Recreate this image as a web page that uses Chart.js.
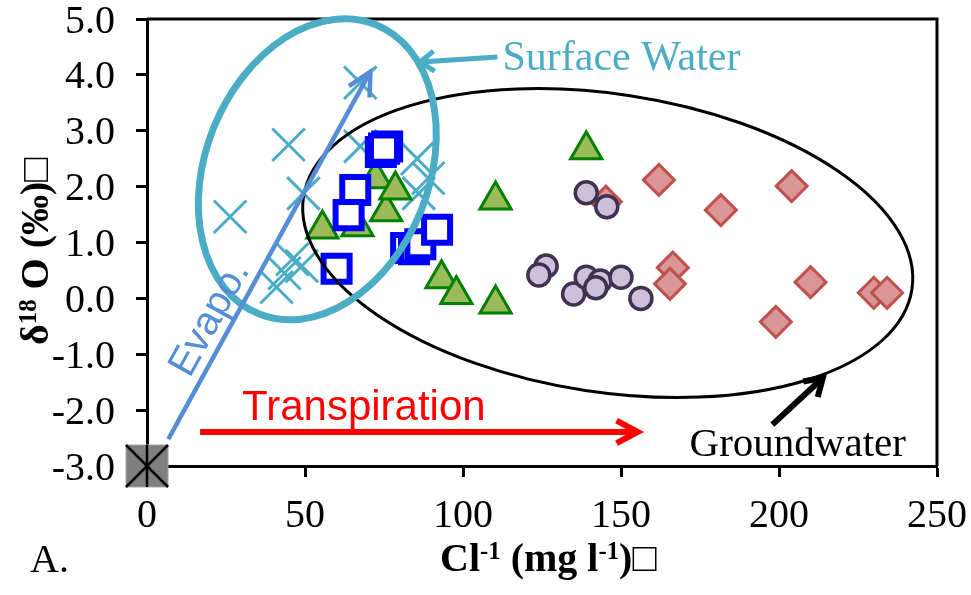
<!DOCTYPE html>
<html>
<head>
<meta charset="utf-8">
<script src="https://cdn.jsdelivr.net/npm/chart.js@4.4.1/dist/chart.umd.min.js"></script>
<style>
  html, body { margin: 0; padding: 0; background: #ffffff; }
  canvas { display: block; }
</style>
</head>
<body>
<canvas id="c" width="971" height="595"></canvas>
<script>
// Chloride (mg/l) against delta-18O (permil) for each group of water samples
const surfaceCl   = [67.5, 44.8, 67.5, 26.3, 49.5, 85.5, 89.0, 86.0, 46.0, 49.0, 43.5, 41.0];
const surfaceO18  = [3.86, 2.75, 2.72, 1.46, 1.88, 2.50, 2.15, 1.88, 0.70, 0.58, 0.45, 0.20];

const squareCl    = [74.0, 76.0, 75.0, 65.9, 63.8, 60.0, 82.0, 84.5, 86.5, 91.8];
const squareO18   = [2.62, 2.72, 2.68, 1.94, 1.49, 0.53, 0.90, 0.88, 0.97, 1.23];

const triangleCl  = [55.5, 66.6, 72.4, 75.7, 78.6, 93.2, 97.9, 110.3, 110.3, 139.0];
const triangleO18 = [1.24, 1.28, 2.14, 1.55, 1.94, 0.35, 0.07, -0.10, 1.76, 2.66];

const circleCl    = [139.0, 145.5, 126.3, 124.0, 135.0, 139.0, 143.4, 142.0, 150.0, 156.3];
const circleO18   = [1.89, 1.64, 0.58, 0.42, 0.08, 0.38, 0.31, 0.19, 0.38, 0.00];

const diamondCl   = [162.0, 181.6, 204.0, 145.2, 166.4, 165.5, 210.0, 199.0, 230.0, 234.2];
const diamondO18  = [2.12, 1.58, 2.01, 1.73, 0.55, 0.26, 0.29, -0.42, 0.10, 0.10];

const rainCl      = [0];
const rainO18     = [-3.0];

// axis tick values
const xTickValues = [0, 50, 100, 150, 200, 250];
const yTickValues = [-3, -2, -1, 0, 1, 2, 3, 4, 5];

const pts = (xs, ys) => xs.map((x, i) => ({ x: x, y: ys[i] }));

const SERIF = "'Liberation Serif', 'Times New Roman', serif";
const SANS  = "'Liberation Sans', Arial, sans-serif";

// shapes, arrows and notes placed on the plot (anchors in data units)
const notes = {
  surfaceEllipse: { cx: 53.9, cy: 2.31, rx: 156, ry: 111.7, rot: -67.9, color: '#4BACC6', width: 7 },
  groundEllipse:  { cx: 145.8, cy: 0.99, rx: 307.7, ry: 149.1, rot: 8.63, color: '#000000', width: 3 },
  arrows: [
    { from: [6.75, -2.52], to: [70.7, 4.06], color: '#558ED5', width: 4.5, head: 26, ang: 27 },
    { from: [110.9, 4.32], to: [86.5, 4.23], color: '#4BACC6', width: 5, head: 17, ang: 36 },
    { from: [16.8, -2.39], to: [155.3, -2.39], color: '#FF0000', width: 6, head: 24, ang: 28 },
    { from: [197.9, -2.26], to: [213.9, -1.42], color: '#000000', width: 6, head: 20, ang: 32 }
  ],
  labels: [
    { text: 'Surface Water', at: [112.5, 4.09], font: '42px ' + SERIF, color: '#4BACC6', rot: 0 },
    { text: 'Transpiration', at: [30.1, -2.17], font: '42px ' + SANS, color: '#FF0000', rot: 0 },
    { text: 'Groundwater',   at: [171.7, -2.82], font: '41px ' + SERIF, color: '#000000', rot: 0 },
    { text: 'Evapo.',        at: [13.5, -1.44], font: '40px ' + SANS, color: '#558ED5', rot: -61 }
  ]
};

const deg = d => d * Math.PI / 180;

function drawArrow(ctx, x1, y1, x2, y2, color, width, headLen, headAng) {
  const a = Math.atan2(y2 - y1, x2 - x1);
  ctx.save();
  ctx.strokeStyle = color;
  ctx.lineWidth = width;
  ctx.lineCap = 'butt';
  ctx.lineJoin = 'miter';
  ctx.beginPath();
  ctx.moveTo(x1, y1);
  ctx.lineTo(x2 - Math.cos(a) * width * 0.8, y2 - Math.sin(a) * width * 0.8);
  ctx.stroke();
  ctx.beginPath();
  ctx.moveTo(x2 - headLen * Math.cos(a - deg(headAng)), y2 - headLen * Math.sin(a - deg(headAng)));
  ctx.lineTo(x2, y2);
  ctx.lineTo(x2 - headLen * Math.cos(a + deg(headAng)), y2 - headLen * Math.sin(a + deg(headAng)));
  ctx.stroke();
  ctx.restore();
}

// text with raised (superscript) runs
function drawRich(ctx, parts, size, family) {
  let x = 0;
  parts.forEach(p => {
    const s = p.sup ? size * 0.62 : size;
    ctx.font = 'bold ' + s + 'px ' + family;
    ctx.fillText(p.t, x, p.sup ? -size * 0.3 : 0);
    x += ctx.measureText(p.t).width;
  });
}

const notesPlugin = {
  id: 'notes',
  beforeDatasetsDraw(chart) {
    const { ctx, chartArea: a } = chart;
    ctx.save();
    ctx.strokeStyle = '#000';
    ctx.lineWidth = 3;
    ctx.beginPath();
    ctx.moveTo(a.left, a.top);
    ctx.lineTo(a.right, a.top);
    ctx.lineTo(a.right, a.bottom);
    ctx.stroke();
    ctx.restore();
  },
  afterDatasetsDraw(chart) {
    const { ctx } = chart;
    const sx = chart.scales.x, sy = chart.scales.y;
    const P = (v) => [sx.getPixelForValue(v[0]), sy.getPixelForValue(v[1])];

    [notes.groundEllipse, notes.surfaceEllipse].forEach(e => {
      const [cx, cy] = P([e.cx, e.cy]);
      ctx.save();
      ctx.strokeStyle = e.color;
      ctx.lineWidth = e.width;
      ctx.beginPath();
      ctx.ellipse(cx, cy, e.rx, e.ry, deg(e.rot), 0, Math.PI * 2);
      ctx.stroke();
      ctx.restore();
    });

    notes.arrows.forEach(ar => {
      const [x1, y1] = P(ar.from), [x2, y2] = P(ar.to);
      drawArrow(ctx, x1, y1, x2, y2, ar.color, ar.width, ar.head, ar.ang);
    });

    notes.labels.forEach(l => {
      const [x, y] = P(l.at);
      ctx.save();
      ctx.translate(x, y);
      ctx.rotate(deg(l.rot));
      ctx.font = l.font;
      ctx.fillStyle = l.color;
      ctx.textBaseline = 'alphabetic';
      ctx.textAlign = 'left';
      ctx.fillText(l.text, 0, 0);
      ctx.restore();
    });
  },
  afterDraw(chart) {
    const { ctx, chartArea: a } = chart;
    ctx.save();
    ctx.fillStyle = '#000';
    ctx.textBaseline = 'alphabetic';
    ctx.textAlign = 'left';

    // x-axis title
    ctx.save();
    ctx.translate(440, a.bottom + 105);
    drawRich(ctx, [{ t: 'Cl' }, { t: '-1', sup: true }, { t: ' (mg l' }, { t: '-1', sup: true }, { t: ')\u25A1' }], 40, SERIF);
    ctx.restore();

    // y-axis title
    ctx.save();
    ctx.translate(48, 345);
    ctx.rotate(-Math.PI / 2);
    drawRich(ctx, [{ t: '\u03B4' }, { t: '18', sup: true }, { t: ' O (\u2030)\u25A1' }], 40, SERIF);
    ctx.restore();

    // panel letter
    ctx.font = '40px ' + SERIF;
    ctx.fillText('A.', 30, 572);
    ctx.restore();
  }
};

const base = { showLine: false, clip: false };

new Chart(document.getElementById('c'), {
  type: 'scatter',
  data: {
    datasets: [
      Object.assign({ data: pts(rainCl, rainO18), pointStyle: 'line', rotation: 90, pointRadius: 21, pointHoverRadius: 21,
        borderColor: '#000', borderWidth: 2.5 }, base),
      Object.assign({ data: pts(rainCl, rainO18), pointStyle: 'crossRot', pointRadius: 29.7, pointHoverRadius: 29.7,
        borderColor: '#000', borderWidth: 2.5 }, base),
      Object.assign({ data: pts(rainCl, rainO18), pointStyle: 'rect', pointRadius: 29.7, pointHoverRadius: 29.7,
        backgroundColor: '#7F7F7F', borderColor: '#A6A6A6', borderWidth: 1 }, base),
      Object.assign({ data: pts(squareCl, squareO18), pointStyle: 'rect', pointRadius: 18.4, pointHoverRadius: 18.4,
        backgroundColor: '#FFFFFF', borderColor: '#0000FF', borderWidth: 6 }, base),
      Object.assign({ data: pts(triangleCl, triangleO18), pointStyle: 'triangle', pointRadius: 18, pointHoverRadius: 18,
        backgroundColor: '#9BBB59', borderColor: '#008000', borderWidth: 3 }, base),
      Object.assign({ data: pts(circleCl, circleO18), pointStyle: 'circle', pointRadius: 11, pointHoverRadius: 11,
        backgroundColor: '#CCC1DA', borderColor: '#403152', borderWidth: 3.5 }, base),
      Object.assign({ data: pts(diamondCl, diamondO18), pointStyle: 'rectRot', pointRadius: 15.5, pointHoverRadius: 15.5,
        backgroundColor: '#D99694', borderColor: '#C0504D', borderWidth: 3 }, base),
      Object.assign({ data: pts(surfaceCl, surfaceO18), pointStyle: 'crossRot', pointRadius: 23, pointHoverRadius: 23,
        borderColor: '#4BACC6', borderWidth: 3 }, base)
    ]
  },
  options: {
    responsive: false,
    devicePixelRatio: 1,
    animation: false,
    events: [],
    layout: { autoPadding: false, padding: { left: 0, right: 34, top: 19, bottom: 0 } },
    plugins: { legend: { display: false }, tooltip: { enabled: false }, title: { display: false } },
    scales: {
      x: {
        type: 'linear', min: 0, max: 250,
        afterBuildTicks: s => { s.ticks = xTickValues.map(v => ({ value: v })); },
        afterFit: s => { s.height = 129; s.paddingLeft = 0; s.paddingRight = 0; },
        grid: { drawOnChartArea: false, drawTicks: true, tickLength: 11, tickWidth: 3, color: '#000' },
        border: { display: true, color: '#000', width: 3 },
        ticks: { color: '#000', font: { family: SERIF, size: 40 }, padding: 15, maxRotation: 0, autoSkip: false,
          callback: v => String(v) }
      },
      y: {
        type: 'linear', min: -3, max: 5,
        afterBuildTicks: s => { s.ticks = yTickValues.map(v => ({ value: v })); },
        afterFit: s => { s.width = 147; s.paddingTop = 0; s.paddingBottom = 0; },
        grid: { drawOnChartArea: false, drawTicks: true, tickLength: 11, tickWidth: 3, color: '#000' },
        border: { display: true, color: '#000', width: 3 },
        ticks: { color: '#000', font: { family: SERIF, size: 40 }, padding: 21, labelOffset: 3, autoSkip: false,
          callback: v => Number(v).toFixed(1) }
      }
    }
  },
  plugins: [notesPlugin]
});
</script>
</body>
</html>
